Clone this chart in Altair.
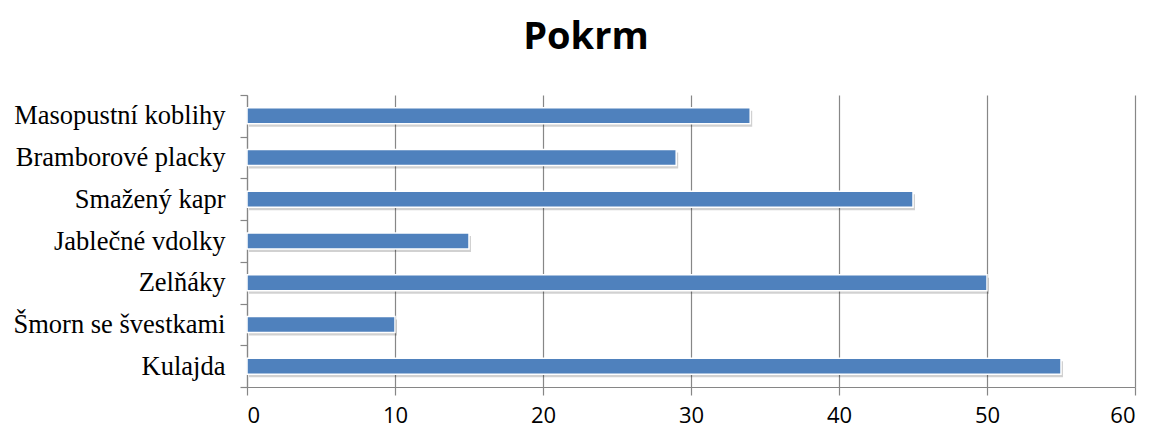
import altair as alt
import pandas as pd

categories = ["Masopustní koblihy", "Bramborové placky", "Smažený kapr",
              "Jablečné vdolky", "Zelňáky", "Šmorn se švestkami", "Kulajda"]
values = [34, 29, 45, 15, 50, 10, 55]
x_ticks = [0, 10, 20, 30, 40, 50, 60]
title_text = ["Pokrm"]

df = pd.DataFrame({"pokrm": categories, "pocet": values})

y_enc = alt.Y("pokrm:N", sort=categories,
              scale=alt.Scale(paddingInner=0, paddingOuter=0),
              axis=alt.Axis(title=None, tickBand="extent", tickSize=7,
                            tickColor="#868686", domainColor="#868686",
                            labelFont="Liberation Serif", labelFontSize=26.5,
                            labelColor="#000000", labelPadding=15, labelLimit=0,
                            grid=False, domainWidth=1.2, tickWidth=1.2))
x_enc = alt.X("pocet:Q", scale=alt.Scale(domain=[0, 60], nice=False),
              axis=alt.Axis(title=None, values=x_ticks, tickSize=8,
                            tickColor="#868686", domainColor="#868686",
                            gridColor="#878787", gridWidth=1.2,
                            labelFont="Open Sans", labelFontSize=22,
                            labelColor="#000000", labelPadding=10,
                            domainWidth=1.2, tickWidth=1.2))

shadow = alt.Chart(df).mark_bar(size=16, color="#000000", opacity=0.18,
                                xOffset=2, yOffset=3).encode(x=x_enc, y=y_enc)
bars = alt.Chart(df).mark_bar(size=16, color="#4F81BD", stroke="#FFFFFF",
                              strokeWidth=1.5).encode(x=x_enc, y=y_enc)
title = alt.Chart(pd.DataFrame({"t": title_text})).mark_text(
    font="Open Sans", fontSize=38, fontWeight="bold", color="#000000",
    align="center", baseline="alphabetic"
).encode(text="t:N", x=alt.value(339), y=alt.value(-46))

chart = alt.layer(shadow, bars, title).properties(
    width=888, height=292,
    background="#FFFFFF",
    autosize=alt.AutoSizeParams(type="none"),
    padding={"left": 239, "top": 87, "right": 8, "bottom": 44},
).configure_view(strokeWidth=0, stroke="transparent")

chart.save("out.html", embed_options={"renderer": "svg", "actions": False})
